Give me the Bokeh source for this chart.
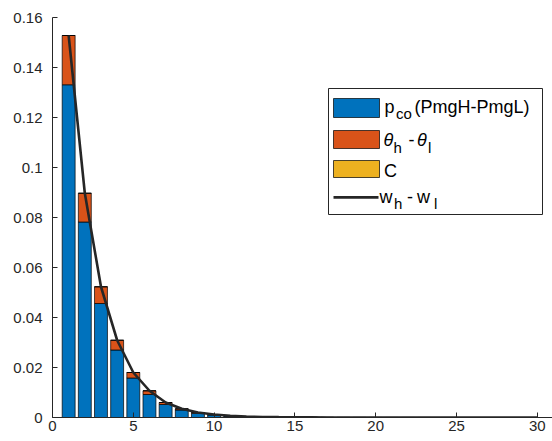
from bokeh.plotting import figure
from bokeh.models import ColumnDataSource, Label, BoxAnnotation, FixedTicker, Range1d
from bokeh.embed import file_html
from bokeh.resources import INLINE

# ---------------- data ----------------
periods = list(range(1, 31))
p_co = [0.1331, 0.0782, 0.0456, 0.0270, 0.0158, 0.0092, 0.0052, 0.0030, 0.0017, 0.0010,
        0.0006, 0.00035, 0.0002, 0.00012, 0.00007, 0.00004, 0.00002, 0.00001, 0.000006, 0.000004,
        0.000002, 0.000001, 0.000001, 0.0, 0.0, 0.0, 0.0, 0.0, 0.0, 0.0]
theta_diff = [0.0197, 0.0115, 0.0067, 0.0039, 0.0022, 0.0015, 0.0008, 0.0005, 0.0003, 0.0002,
              0.0001, 0.00005, 0.00003, 0.00002, 0.00001, 0.000006, 0.000003, 0.000002, 0.000001, 0.000001,
              0.0, 0.0, 0.0, 0.0, 0.0, 0.0, 0.0, 0.0, 0.0, 0.0]
c_term = [0.0, 0.0, 0.0, 0.0, 0.0, 0.0, 0.0, 0.0, 0.0, 0.0,
          0.0, 0.0, 0.0, 0.0, 0.0, 0.0, 0.0, 0.0, 0.0, 0.0,
          0.0, 0.0, 0.0, 0.0, 0.0, 0.0, 0.0, 0.0, 0.0, 0.0]
w_diff = [0.1528, 0.0897, 0.0523, 0.0309, 0.0180, 0.0107, 0.0060, 0.0035, 0.0020, 0.0012,
          0.0007, 0.0004, 0.00023, 0.00014, 0.00008, 0.00005, 0.00002, 0.00001, 0.000007, 0.000005,
          0.000002, 0.000001, 0.000001, 0.0, 0.0, 0.0, 0.0, 0.0, 0.0, 0.0]
x_ticks = [0, 5, 10, 15, 20, 25, 30]
y_ticks = [0, 0.02, 0.04, 0.06, 0.08, 0.1, 0.12, 0.14, 0.16]
y_tick_labels = ["0", "0.02", "0.04", "0.06", "0.08", "0.1", "0.12", "0.14", "0.16"]

# ---------------- layout / style ----------------
W, H = 552, 441
LEFT, TOP, BOTTOM_B, RIGHT = 52, 17, 24, 0
X_END = 30.94
Y_END = 0.16
FRAME_W = W - LEFT - RIGHT
FRAME_H = H - TOP - BOTTOM_B

BLUE = "#0072BD"
ORANGE = "#D95319"
YELLOW = "#EDB120"
DARK = "#262626"
FONT = "Liberation Sans"


def px2x(px):
    return (px - LEFT) / FRAME_W * X_END


def py2y(py):
    return (TOP + FRAME_H - py) / FRAME_H * Y_END


p = figure(width=W, height=H, output_backend="svg", toolbar_location=None,
           x_range=Range1d(0, X_END), y_range=Range1d(0, Y_END),
           min_border_left=LEFT, min_border_right=RIGHT,
           min_border_top=TOP, min_border_bottom=BOTTOM_B)
p.outline_line_color = None
p.background_fill_color = "white"
p.border_fill_color = "white"
p.xgrid.visible = False
p.ygrid.visible = False

# stacked bars
b1 = [0.0] * len(periods)
t1 = [b + v for b, v in zip(b1, p_co)]
t2 = [b + v for b, v in zip(t1, theta_diff)]
t3 = [b + v for b, v in zip(t2, c_term)]
src = ColumnDataSource(dict(x=periods, b1=b1, t1=t1, t2=t2, t3=t3, w=w_diff))

p.vbar(x="x", width=0.8, bottom="b1", top="t1", source=src,
       fill_color=BLUE, line_color="black", line_width=0.7)
p.vbar(x="x", width=0.8, bottom="t1", top="t2", source=src,
       fill_color=ORANGE, line_color="black", line_width=0.7)
p.vbar(x="x", width=0.8, bottom="t2", top="t3", source=src,
       fill_color=YELLOW, line_color="black", line_width=0.7)
p.line(x="x", y="w", source=src, line_color=DARK, line_width=2.6)

# axes
for ax in (p.xaxis[0], p.yaxis[0]):
    ax.axis_line_color = DARK
    ax.axis_line_width = 1
    ax.major_tick_line_color = DARK
    ax.major_tick_in = 5
    ax.major_tick_out = 0
    ax.minor_tick_in = 0
    ax.minor_tick_out = 0
    ax.major_label_text_font = FONT
    ax.major_label_text_font_size = "15px"
    ax.major_label_text_color = DARK

p.xaxis[0].ticker = FixedTicker(ticks=x_ticks)
p.xaxis[0].major_label_standoff = 3
p.yaxis[0].ticker = FixedTicker(ticks=y_ticks)
p.yaxis[0].major_label_overrides = {t: s for t, s in zip(y_ticks, y_tick_labels)}
p.yaxis[0].major_label_standoff = 10

# ---------------- manual legend ----------------
frame_box = BoxAnnotation(left=px2x(328), right=px2x(542), top=py2y(88), bottom=py2y(214),
                          fill_color="white", fill_alpha=1.0, line_color=DARK, line_width=1,
                          line_alpha=1.0)
p.add_layout(frame_box)

sw_l, sw_r = px2x(333), px2x(379)
for (ytop, ybot), col in [((98, 117), BLUE), ((130, 148), ORANGE), ((160, 177), YELLOW)]:
    p.add_layout(BoxAnnotation(left=sw_l, right=sw_r, top=py2y(ytop), bottom=py2y(ybot),
                               fill_color=col, fill_alpha=1.0, line_color="black",
                               line_width=0.7, line_alpha=1.0))
p.add_layout(BoxAnnotation(left=sw_l, right=px2x(378), top=py2y(195.4), bottom=py2y(198.2),
                           fill_color=DARK, fill_alpha=1.0, line_width=0, line_alpha=0))

MAIN = "18px"
SUB = "15px"
DY = 5  # baseline correction (rendered labels sit lower than requested)


def lab(px, py, text, size, style="normal"):
    p.add_layout(Label(x=px2x(px), y=py2y(py - DY), text=text, text_font=FONT,
                       text_font_size=size, text_font_style=style, text_color="black",
                       text_align="left", text_baseline="alphabetic"))


# row 1: p_co(PmgH-PmgL)
lab(384, 111, "p", MAIN)
lab(395.5, 118, "co", SUB)
lab(414, 111, "(PmgH-PmgL)", MAIN)
# row 2: theta_h - theta_l
lab(383, 144, "θ", MAIN, "italic")
lab(393, 152, "h", SUB)
lab(408, 144, "-", MAIN)
lab(416.5, 144, "θ", MAIN, "italic")
lab(427.5, 152, "l", SUB)
# row 3: C
lab(383.5, 175, "C", MAIN)
# row 4: w_h - w_l
lab(379, 201, "w", MAIN)
lab(393.5, 208, "h", SUB)
lab(406.5, 201, "-", MAIN)
lab(416.5, 201, "w", MAIN)
lab(433.5, 208, "l", SUB)

open("out.html", "w").write(file_html(p, INLINE))
